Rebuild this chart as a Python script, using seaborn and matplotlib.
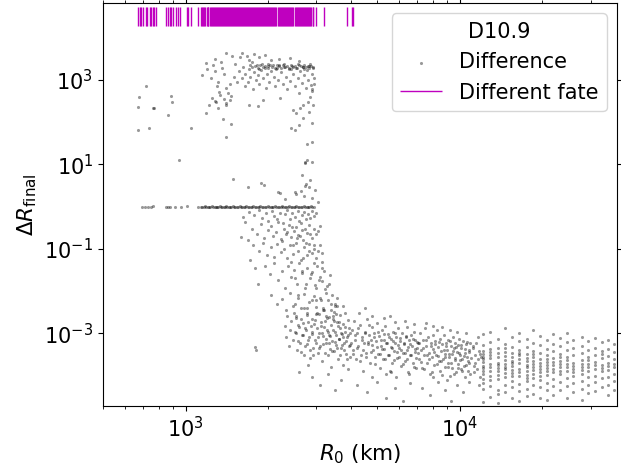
import matplotlib
matplotlib.use("Agg")
import matplotlib.pyplot as plt
from matplotlib.ticker import FixedLocator, NullLocator
import seaborn as sns
import pandas as pd

# ---------------- data ----------------
# isolated "different fate" points left of the main cluster
left_x = [676, 672, 715, 760, 770, 734, 672, 862, 887, 894, 1049, 945]
left_y = [389, 225, 721, 213, 221, 74, 65, 148, 418, 306, 72, 12.7]

# upper cluster (Delta R ~ 1e3)
upper_x = [1150, 1190, 1200, 1240, 1260, 1275, 1285, 1300, 1310, 1350, 1360, 1380, 1400, 1405, 1430,
           1450, 1470, 1250, 1290, 1220, 1330, 1380, 1320, 1400, 1450,
           1500, 1520, 1540, 1560, 1580, 1600, 1620, 1640, 1650, 1670, 1690, 1700, 1720, 1740, 1760,
           1780, 1800, 1820, 1840, 1860, 1880, 1900, 1920, 1940, 1960, 1980, 2000, 2020, 2050, 2080,
           2100, 2120, 2150, 2180, 2200, 2230, 2260, 2290, 2320, 2350, 2380, 2410, 2440, 2470, 2500,
           2530, 2560, 2590, 2620, 2650, 2680, 2710, 2740, 2770, 2800, 2830, 2860, 2880, 2900, 2920, 2940,
           1750, 1790, 1830, 1870, 1910, 1950, 1990, 2030, 2070, 2110, 2150, 2190, 2230, 2270, 2310,
           2350, 2390, 2430, 2470, 2510, 2550, 2590, 2630, 2670, 2710, 2750, 2790, 2830, 2870, 2910,
           1720, 1860, 2000, 2140, 2280, 2420, 2560, 2700, 2840,
           1700, 1850, 1780, 1950, 2050, 2200, 2400, 2600, 1600, 1480,
           2464, 2433, 2498, 2593, 2761, 2879, 2761, 2717, 2879, 2795, 2833, 2690, 2530, 2607, 2815,
           2676, 2900, 2950, 2920,
           1183, 1276, 1311, 1367, 1408, 1468, 1408, 1701, 1836, 1916, 2204]
upper_y = [1300, 2500, 1800, 1100, 2200, 3100, 1600, 700, 900, 2600, 1900, 1400, 4300, 650, 500,
           800, 420, 380, 300, 260, 440, 350, 520, 250, 330,
           1200, 2400, 900, 1600, 3400, 1100, 2000, 700, 1400, 3700, 900, 1800, 1200, 2600, 600,
           1500, 1000, 2200, 1300, 800, 1700, 2400, 1100, 1900, 650, 1400, 2100, 900, 1600, 2300,
           1200, 700, 1900, 1000, 2200, 1500, 800, 2000, 1200, 600, 1800, 950, 2100, 1400, 700,
           1900, 1100, 500, 1600, 850, 2000, 1300, 650, 1700, 1000, 2100, 750, 1400, 550, 1900, 1100,
           2050, 2150, 1950, 2250, 2000, 2150, 1900, 2200, 2050, 1950, 2250, 2100, 1950, 2200, 2050,
           2150, 1950, 2250, 2050, 2150, 1950, 2200, 2100, 2000, 2250, 2050, 2150, 1950, 2100, 2000,
           2300, 1850, 2350, 1800, 2350, 1850, 2350, 1800, 2350,
           3000, 3400, 4200, 3800, 2900, 3100, 3300, 2800, 4400, 3600,
           195, 72, 65, 86, 30, 33, 12.7, 11, 94, 306, 403, 256, 162, 213, 178,
           124, 600, 800, 250,
           168, 323, 213, 117, 44, 91, 280, 256, 242, 335, 368]

# horizontal row at Delta R ~ 1
line_x = [695, 709, 729, 750, 760, 851, 862, 880, 912, 960, 1011, 1109,
          1140, 1150, 1165, 1180, 1190, 1205, 1220, 1230, 1245, 1260, 1275, 1290, 1300, 1315, 1330,
          1345, 1360, 1375, 1390, 1405, 1420, 1440, 1455, 1470, 1490, 1505, 1520, 1540, 1555, 1575,
          1590, 1610, 1630, 1645, 1665, 1685, 1705, 1725, 1745, 1765, 1790, 1810, 1830, 1855, 1875,
          1900, 1920, 1945, 1970, 1990, 2015, 2040, 2065, 2090, 2115, 2140, 2165, 2195, 2220, 2245,
          2275, 2300, 2330, 2360, 2385, 2415, 2445, 2475, 2505, 2535, 2565, 2600, 2630, 2660, 2695,
          2725, 2760, 2795, 2830, 2865, 2900, 2930]
line_y = [1.0, 1.0, 0.99, 1.0, 1.01, 1.0, 1.0, 0.99, 1.0, 1.0, 1.01, 1.0,
          1.0, 0.99, 1.0, 1.01, 1.0, 1.0, 0.99, 1.0, 1.01, 1.0, 1.0, 0.99, 1.0, 1.0, 1.01,
          1.0, 0.99, 1.0, 1.0, 1.01, 1.0, 0.99, 1.0, 1.0, 1.01, 1.0, 0.99, 1.0, 1.0, 1.01,
          1.0, 0.99, 1.0, 1.0, 1.01, 1.0, 0.99, 1.0, 1.0, 1.01, 1.0, 0.99, 1.0, 1.0, 1.01,
          1.0, 0.99, 1.0, 1.0, 1.01, 1.0, 0.99, 1.0, 1.0, 1.01, 1.0, 0.99, 1.0, 1.0, 1.01,
          1.0, 0.99, 1.0, 1.0, 1.01, 1.0, 0.99, 1.0, 1.0, 1.01, 1.0, 0.99, 1.0, 1.0, 1.01,
          1.0, 0.99, 1.0, 1.0, 1.01, 1.0, 0.99]

# steep drop between ~1 and ~1e-3
drop_x = [1614, 1642, 1700, 1780, 1850, 1900, 1960, 2000, 2060, 2100, 2150, 2210, 2260, 2300, 2350,
          2400, 2450, 2500, 2560, 2600, 2650, 2700, 2750, 2800, 2850, 2900, 2950, 3000,
          1484, 1683, 1890, 1925, 2166, 2205, 2643, 2738, 2824, 2500, 2530, 2900, 2960, 2300, 2700,
          3050, 2718, 2897, 2666, 2833, 2718,
          1597, 1688, 1750, 1820, 1880, 1930, 1990, 2040, 2080, 2130, 2180, 2230, 2280, 2330, 2380,
          2430, 2480, 2530, 2580, 2630, 2680, 2730, 2780, 2830, 2880, 2930, 2980, 3030, 3080,
          1711, 1760, 1850, 1920, 1980, 2040, 2100, 2160, 2220, 2280, 2340, 2400, 2460, 2520, 2580,
          2640, 2700, 2760, 2820, 2880, 2940, 3000, 3080, 3150,
          1785, 1836, 1950, 2030, 2100, 2170, 2240, 2300, 2360, 2420, 2480, 2540, 2600, 2660, 2720,
          2780, 2840, 2900, 2960, 3020, 3080, 3140, 3200, 3280, 3350,
          2050, 2150, 2250, 2330, 2400, 2460, 2520, 2580, 2640, 2700, 2760, 2820, 2880, 2940, 3000,
          3060, 3120, 3180, 3250, 3320, 3400, 3480, 3560, 3650, 3750,
          1785, 1800,
          2420, 2470, 2510, 2560, 2610, 2650, 2690, 2740, 2780, 2820, 2860, 2900, 2940, 2980, 3020,
          3060, 3100, 3140, 3180, 3220, 3260, 3300, 3340, 3380, 3420, 3460, 3500, 3540, 3580, 3620,
          2250, 2350, 2450, 2550, 2650, 2750, 2850, 2950, 3050, 3150]
drop_y = [0.57, 0.43, 0.75, 0.62, 0.85, 0.55, 0.7, 0.45, 0.8, 0.6, 0.5, 0.72, 0.4, 0.65, 0.85,
          0.5, 0.7, 0.58, 0.8, 0.45, 0.62, 0.75, 0.5, 0.68, 0.55, 0.8, 0.6, 0.7,
          4.5, 2.9, 3.6, 3.2, 2.2, 2.1, 2.3, 3.4, 2.9, 2.2, 2.0, 1.6, 2.5, 1.5, 1.8,
          1.3, 11.5, 11.5, 5.6, 4.3, 3.0,
          0.19, 0.16, 0.3, 0.22, 0.38, 0.18, 0.28, 0.35, 0.2, 0.25, 0.42, 0.17, 0.3, 0.22, 0.36,
          0.19, 0.27, 0.33, 0.21, 0.4, 0.16, 0.29, 0.24, 0.37, 0.18, 0.3, 0.22, 0.26, 0.35,
          0.054, 0.12, 0.09, 0.14, 0.07, 0.11, 0.065, 0.13, 0.085, 0.1, 0.06, 0.12, 0.075, 0.14, 0.09,
          0.055, 0.11, 0.07, 0.13, 0.08, 0.1, 0.06, 0.12, 0.08,
          0.035, 0.015, 0.04, 0.025, 0.045, 0.018, 0.03, 0.012, 0.04, 0.022, 0.032, 0.015, 0.045, 0.027, 0.012,
          0.036, 0.02, 0.028, 0.014, 0.04, 0.022, 0.017, 0.03, 0.013, 0.024,
          0.008, 0.005, 0.0065, 0.0035, 0.009, 0.0045, 0.0025, 0.007, 0.004, 0.0085, 0.003, 0.0055, 0.0022, 0.0075, 0.0042,
          0.0028, 0.006, 0.0035, 0.009, 0.0024, 0.005, 0.0032, 0.007, 0.0027, 0.0045,
          4.8e-4, 4.0e-4,
          0.05, 0.12, 0.02, 0.008, 0.2, 0.03, 0.06, 0.015, 0.004, 0.09, 0.025, 0.006, 0.045, 0.012, 0.003,
          0.018, 0.007, 0.035, 0.004, 0.011, 0.0025, 0.006, 0.015, 0.0035, 0.008, 0.0022, 0.005, 0.0028, 0.0045, 0.0019,
          0.15, 0.25, 0.33, 0.18, 0.28, 0.14, 0.22, 0.12, 0.09, 0.05]

# lower band, x < 12000
low_x = [2300, 2320, 2350, 2380, 2400, 2430, 2460, 2490, 2520, 2550, 2580, 2610, 2640, 2670, 2700,
         2730, 2760, 2790, 2820, 2850, 2880, 2910, 2940, 2970, 3000, 3030, 3060, 3090, 3120, 3150,
         3180, 3210, 3240, 3270, 3300, 3330, 3360, 3390, 3420, 3450, 3480, 3510, 3540, 3570, 3600,
         3630, 3660, 3690, 3720, 3750, 3780, 3810, 3840, 3870, 3900, 3930, 3960, 3990,
         2600, 2900, 3100, 3300, 3500, 3700, 3900, 2800, 3400,
         2500, 2700, 3200, 3500, 3800, 3000,
         4030, 4070, 4110, 4150, 4190, 4230, 4270, 4310, 4350, 4390, 4430, 4470, 4510, 4550, 4590,
         4630, 4670, 4710, 4750, 4790, 4830, 4870, 4910, 4950, 4990, 5030, 5070, 5110, 5150, 5190,
         5230, 5270, 5310, 5350, 5390, 5430, 5470, 5510, 5550, 5590, 5630, 5670, 5710, 5750, 5790,
         5830, 5870, 5910, 5950, 5990, 6040, 6090, 6140, 6190, 6240, 6290, 6340, 6390, 6440, 6490,
         6540, 6590, 6640, 6690, 6740, 6790, 6840, 6890, 6940, 6990,
         4200, 4600, 5000, 5400, 5800, 6200, 6600, 4800, 5600,
         4300, 4800, 5300, 5800, 6300, 6800, 4500,
         7050, 7110, 7170, 7230, 7290, 7350, 7410, 7470, 7530, 7590, 7650, 7710, 7770, 7830, 7890,
         7950, 8010, 8070, 8130, 8190, 8250, 8310, 8370, 8430, 8490, 8550, 8610, 8670, 8730, 8790,
         8850, 8910, 8970, 9030, 9090, 9150, 9210, 9270, 9330, 9390, 9450, 9510, 9570, 9630, 9690,
         9750, 9810, 9870, 9930, 9990, 10060, 10130, 10200, 10270, 10340, 10410, 10480, 10550, 10620, 10690,
         10760, 10830, 10900,
         7300, 7800, 8300, 8800, 9300, 9800, 10300, 10800, 8000, 9000,
         7500, 8000, 8600, 9200, 9800, 10500,
         11200, 11400, 11600, 11800, 11300, 11700]
low_y = [1.5e-3, 8e-4, 2.5e-3, 5e-4, 1.2e-3, 2e-3, 7e-4, 3e-3, 1e-3, 4e-4, 1.6e-3, 6e-4, 2.2e-3, 9e-4, 3e-4,
         1.3e-3, 5.5e-4, 1.9e-3, 8e-4, 2.6e-4, 1.1e-3, 4.5e-4, 1.7e-3, 7e-4, 2.8e-3, 3.5e-4, 1e-3, 5e-4, 1.5e-3, 2.2e-4,
         8.5e-4, 2e-3, 6e-4, 1.2e-3, 3e-4, 9e-4, 4.2e-4, 1.6e-3, 6.5e-4, 2.5e-3, 3.8e-4, 1.1e-3, 5.2e-4, 1.9e-3, 2.5e-4,
         7.5e-4, 1.3e-3, 4.5e-4, 9.5e-4, 1.8e-4, 6e-4, 1.4e-3, 3.3e-4, 8e-4, 2.1e-3, 5e-4, 1e-3, 2.8e-4,
         1.2e-4, 9e-5, 6e-5, 1.1e-4, 4.5e-5, 8e-5, 1.4e-4, 1.8e-4, 1.6e-4,
         5e-3, 4e-3, 3.5e-3, 4.5e-3, 3e-3, 6e-3,
         1.2e-3, 4e-4, 2e-3, 7e-4, 2.5e-4, 1e-3, 5e-4, 1.6e-3, 3e-4, 8e-4, 1.3e-4, 6e-4, 1.1e-3, 3.5e-4, 2.2e-3,
         5.5e-4, 9e-4, 2e-4, 7e-4, 1.4e-3, 4e-4, 1e-3, 2.8e-4, 6.5e-4, 1.8e-3, 3.2e-4, 8.5e-4, 1.5e-4, 5e-4, 1.2e-3,
         2.4e-4, 7e-4, 4.2e-4, 1.5e-3, 1.1e-4, 6e-4, 9.5e-4, 3e-4, 2.5e-3, 4.8e-4, 7.5e-4, 2e-4, 1.1e-3, 3.8e-4, 6e-4,
         9e-5, 8e-4, 2.6e-4, 1.3e-3, 4.5e-4, 6.5e-4, 1.7e-4, 1e-3, 3.5e-4, 5.5e-4, 2.2e-4, 8e-4, 1.4e-3, 4e-4, 1.2e-4,
         6.8e-4, 3e-4, 9e-4, 5e-4, 2e-4, 1.1e-3, 3.6e-4, 7e-4, 1.5e-4, 4.5e-4,
         6e-5, 4e-5, 7e-5, 3e-5, 5e-5, 2.5e-5, 6.5e-5, 9e-5, 1.2e-4,
         3e-3, 2.6e-3, 2.3e-3, 1.9e-3, 2e-3, 1.7e-3, 4e-3,
         6e-4, 2.5e-4, 1e-3, 4e-4, 1.5e-4, 7e-4, 3e-4, 1.3e-3, 5e-4, 2e-4, 8e-4, 3.5e-4, 1.1e-4, 6e-4, 2.7e-4,
         9e-4, 4.2e-4, 1.8e-4, 6.5e-4, 3e-4, 1.2e-3, 4.8e-4, 2.2e-4, 7.5e-4, 1.3e-4, 3.8e-4, 5.5e-4, 2.5e-4, 9e-4, 3.2e-4,
         1.6e-4, 6e-4, 4e-4, 2e-4, 7e-4, 2.8e-4, 1e-4, 5e-4, 3.3e-4, 1.5e-4, 8e-4, 4.5e-4, 2.3e-4, 6e-4, 1.2e-4,
         3.6e-4, 5.2e-4, 1.9e-4, 7.5e-4, 3e-4, 1.4e-4, 4.6e-4, 2.4e-4, 6.5e-4, 1.7e-4, 3.5e-4, 9e-5, 5.5e-4, 2.7e-4, 1.3e-4,
         4e-4, 2e-4, 6e-4,
         5e-5, 3.5e-5, 7e-5, 4.5e-5, 2.5e-5, 6e-5, 4e-5, 7e-5, 9e-5, 8e-5,
         1.8e-3, 1.5e-3, 1.4e-3, 1.2e-3, 1.1e-3, 1e-3,
         5e-4, 2e-4, 8e-4, 3.2e-4, 1.2e-4, 6e-5]

# second pass over the densest part of the lower band
dense_x = [2510, 2535, 2565, 2590, 2625, 2655, 2685, 2715, 2745, 2775, 2805, 2835, 2865, 2895, 2925,
           2955, 2985, 3015, 3045, 3075, 3105, 3135, 3165, 3195, 3225, 3255, 3285, 3315, 3345, 3375,
           3405, 3435, 3465, 3495, 3525, 3555, 3585, 3615, 3645, 3675, 3705, 3735, 3765, 3795, 3825,
           3855, 3885, 3915, 3945, 3975,
           4020, 4080, 4140, 4200, 4260, 4320, 4380, 4440, 4500, 4560, 4620, 4680, 4740, 4800, 4860,
           4920, 4980, 5040, 5100, 5160, 5220, 5280, 5340, 5400, 5460, 5520, 5580, 5640, 5700, 5760,
           5820, 5880, 5940, 6000, 6060, 6120, 6180, 6240, 6300, 6360, 6420, 6480, 6540, 6600, 6660,
           6720, 6780, 6840, 6900, 6960,
           7020, 7120, 7220, 7320, 7420, 7520, 7620, 7720, 7820, 7920, 8020, 8120, 8220, 8320, 8420,
           8520, 8620, 8720, 8820, 8920, 9020, 9120, 9220, 9320, 9420, 9520, 9620, 9720, 9820, 9920,
           10020, 10120, 10220, 10320, 10420, 10520, 10620, 10720, 10820, 10920, 11020, 11120, 11220,
           11320, 11420, 11520, 11620, 11720, 11820, 11920]
dense_y = [1.1e-3, 2.3e-3, 6.5e-4, 1.4e-3, 3.6e-4, 9e-4, 1.8e-3, 5e-4, 1.2e-3, 2.7e-3, 7e-4, 4e-4, 1.5e-3, 9.5e-4, 3e-4,
           2.1e-3, 6e-4, 1.3e-3, 8e-4, 4.6e-4, 1.9e-3, 1e-3, 5.5e-4, 1.4e-3, 3.4e-4, 7.5e-4, 2.3e-3, 1.1e-3, 5.8e-4, 8.5e-4,
           3.8e-4, 1.2e-3, 2e-3, 6.2e-4, 9e-4, 4.4e-4, 1.5e-3, 7.2e-4, 3.1e-4, 1e-3, 5.4e-4, 1.7e-3, 8e-4, 4e-4, 1.1e-3,
           6.6e-4, 2.4e-4, 9.2e-4, 1.3e-3, 5.2e-4,
           6e-4, 3.2e-4, 9e-4, 4.6e-4, 1.3e-3, 2.2e-4, 7e-4, 4e-4, 1e-3, 2.8e-4, 6.2e-4, 1.6e-3, 3.6e-4, 5.4e-4, 8.2e-4,
           1.9e-4, 4.8e-4, 1.1e-3, 3.3e-4, 6.8e-4, 4.3e-4, 9.6e-4, 2.5e-4, 5.8e-4, 3.1e-4, 8e-4, 1.3e-4, 4.4e-4, 6.4e-4, 2.3e-4,
           1e-3, 3.7e-4, 5.2e-4, 2.7e-4, 7.6e-4, 4.1e-4, 1.9e-4, 6e-4, 3.4e-4, 8.8e-4, 2.4e-4, 4.7e-4, 1.1e-4, 5.6e-4, 3e-4,
           7.3e-4, 1.6e-4, 4.2e-4, 2.6e-4, 6.1e-4,
           3.4e-4, 5.8e-4, 2.1e-4, 4.4e-4, 1.4e-4, 6.8e-4, 3e-4, 2.4e-4, 4.9e-4, 1.2e-4, 3.7e-4, 5.6e-4, 1.9e-4, 2.9e-4, 6.1e-4,
           2.2e-4, 1.05e-4, 4.1e-4, 2.7e-4, 5e-4, 1.6e-4, 3.2e-4, 6.4e-4, 2e-4, 3.9e-4, 1.1e-4, 2.6e-4, 4.7e-4, 1.5e-4, 3.4e-4,
           2.3e-4, 5.2e-4, 1.3e-4, 2.9e-4, 4.2e-4, 1.8e-4, 6.2e-4, 2.2e-4, 3.6e-4, 1.1e-4, 2.6e-4, 4.4e-4, 1.7e-4,
           3.1e-4, 5.8e-4, 1.4e-4, 2.4e-4, 3.8e-4, 9e-5, 2.8e-4]

# striped region (x > 12000): column positions and the values in each column
stripe_x = [12170, 12870, 13800, 14600, 15440, 16460, 17510, 18510, 19590, 20720,
            21900, 23170, 24510, 25920, 27810, 29400, 31100, 32890, 34770, 36480]
stripe_y = [
    [9.5e-4, 5.2e-4, 3.9e-4, 2.4e-4, 2.1e-4, 1.3e-4, 1.1e-4, 6.5e-5, 4.8e-5, 2.4e-5, 3.2e-4, 1.7e-4, 2.8e-4, 1.5e-4, 8.5e-5],
    [1.1e-3, 6.3e-4, 3.1e-4, 2.6e-4, 1.6e-4, 1.25e-4, 7.8e-5, 5.6e-5, 3.1e-5, 4.3e-4, 9.5e-5, 1.9e-4, 3.6e-4],
    [7.3e-4, 4.4e-4, 3.4e-4, 2e-4, 1.48e-4, 1.02e-4, 8.2e-5, 4.6e-5, 3.7e-5, 2.2e-5, 2.7e-4, 1.75e-4, 1.25e-4],
    [1.3e-3, 5.7e-4, 3.6e-4, 2.9e-4, 1.85e-4, 1.4e-4, 9.1e-5, 6.1e-5, 4.1e-5, 2.3e-4, 1.15e-4, 4.5e-4, 1.6e-4],
    [8.3e-4, 4.8e-4, 3.5e-4, 2.2e-4, 1.7e-4, 1.12e-4, 7.6e-5, 5.3e-5, 2.9e-5, 2.7e-4, 1.35e-4, 1.95e-4, 9.5e-5],
    [1e-3, 6.4e-4, 4.1e-4, 3e-4, 1.95e-4, 1.45e-4, 9.8e-5, 6.2e-5, 4.4e-5, 2.5e-5, 2.45e-4, 1.2e-4, 3.5e-4],
    [7.4e-4, 4.7e-4, 3.2e-4, 2.15e-4, 1.55e-4, 1.05e-4, 7.3e-5, 4.7e-5, 3.3e-5, 1.25e-4, 2.6e-4, 1.8e-4, 8.6e-5],
    [1.2e-3, 5.9e-4, 3.8e-4, 2.75e-4, 1.88e-4, 1.32e-4, 8.7e-5, 5.9e-5, 3.6e-5, 2.2e-4, 1.1e-4, 1.55e-4, 3.2e-4],
    [8.6e-4, 5.3e-4, 3.45e-4, 2.45e-4, 1.68e-4, 1.18e-4, 7.9e-5, 5.4e-5, 3e-5, 2e-4, 9.5e-5, 1.4e-4],
    [6.9e-4, 4.3e-4, 3.05e-4, 2.05e-4, 1.47e-4, 1.01e-4, 6.8e-5, 4.5e-5, 2.6e-5, 1.25e-4, 1.75e-4, 2.5e-4],
    [9.6e-4, 5.5e-4, 3.75e-4, 2.55e-4, 1.77e-4, 1.22e-4, 8.3e-5, 5.6e-5, 3.4e-5, 2.1e-4, 1.45e-4],
    [7.6e-4, 4.9e-4, 3.25e-4, 2.25e-4, 1.57e-4, 1.07e-4, 7.1e-5, 4.6e-5, 2.7e-4, 1.3e-4, 1.9e-4],
    [1e-3, 6.1e-4, 4e-4, 2.7e-4, 1.86e-4, 1.27e-4, 8.6e-5, 5.7e-5, 3e-5, 2.3e-4, 1.55e-4],
    [7.1e-4, 4.6e-4, 3e-4, 2e-4, 1.42e-4, 9.6e-5, 6.6e-5, 4.1e-5, 1.7e-4, 1.2e-4],
    [8.2e-4, 5.1e-4, 3.4e-4, 2.3e-4, 1.6e-4, 1.1e-4, 7.6e-5, 4.9e-5, 2.7e-5, 1.35e-4, 1.9e-4],
    [6.6e-4, 4.1e-4, 2.8e-4, 1.9e-4, 1.3e-4, 9.1e-5, 6e-5, 3.8e-5, 2.3e-4, 1.55e-4],
    [7.9e-4, 4.6e-4, 3.1e-4, 2.1e-4, 1.46e-4, 1e-4, 6.9e-5, 4.2e-5, 1.75e-4],
    [6.1e-4, 3.8e-4, 2.6e-4, 1.8e-4, 1.26e-4, 8.6e-5, 5.5e-5, 3.3e-4, 1.5e-4],
    [7e-4, 4.2e-4, 2.9e-4, 2e-4, 1.36e-4, 9.1e-5, 6.1e-5, 3.5e-5, 1.65e-4],
    [5.6e-4, 3.6e-4, 2.4e-4, 1.6e-4, 1.1e-4, 7.6e-5, 4.5e-5, 1.9e-4],
]

# R0 of the runs whose fate differs (rug at the top)
fate_x = [670, 680, 689, 698, 715, 723, 739, 750, 760, 770, 782,
          851, 861, 875, 887, 899, 920, 937, 951, 1011, 1019, 1049, 1109,
          1141, 1150, 1160, 1172, 1180, 1195, 1205, 1212, 1225, 1238, 1245, 1260, 1268, 1280, 1292,
          1300, 1315, 1322, 1335, 1348, 1356, 1370, 1382, 1390, 1405, 1418, 1426, 1440, 1452, 1465,
          1476, 1490, 1502, 1515, 1528, 1540, 1552, 1566, 1580, 1592, 1605, 1620, 1633, 1647, 1660,
          1675, 1688, 1702, 1716, 1730, 1745, 1760, 1775, 1790, 1805, 1820, 1836, 1852, 1868, 1884,
          1900, 1916, 1932, 1949, 1966, 1983, 2000, 2018, 2035, 2053, 2071, 2090, 2108, 2126, 2145,
          2164, 2183, 2202, 2222, 2242, 2262, 2282, 2303, 2323, 2344, 2365, 2386, 2408, 2430, 2452,
          2474, 2496, 2519, 2541, 2564, 2587, 2610, 2634, 2657, 2681, 2705, 2729, 2754, 2778, 2803,
          2828, 2853, 2878, 2903, 2915,
          3000, 3189, 3883, 4045, 4080]

# y-axis labelled decades
y_ticks = [1e-3, 1e-1, 1e1, 1e3]

# ---------------- build table ----------------
xs = left_x + upper_x + line_x + drop_x + low_x + dense_x
ys = left_y + upper_y + line_y + drop_y + low_y + dense_y
for sx, col in zip(stripe_x, stripe_y):
    xs += [sx] * len(col)
    ys += list(col)
df = pd.DataFrame({"R0": xs, "dR": ys})

# ---------------- plot ----------------
fig = plt.figure(figsize=(6.21, 4.66), dpi=100)
ax = fig.add_axes([103 / 621, 60 / 466, 514 / 621, 403 / 466])

sns.scatterplot(data=df, x="R0", y="dR", ax=ax, s=5, color="k", alpha=0.4,
                linewidth=0, label="Difference")
ax.vlines(fate_x, 1.9e4, 5.3e4, colors="m", linewidth=1, label="Different fate")

ax.set_xscale("log")
ax.set_yscale("log")
ax.set_xlim(500, 37400)
ax.set_ylim(1.9e-5, 6.6e4)
ax.yaxis.set_major_locator(FixedLocator(y_ticks))
ax.yaxis.set_minor_locator(NullLocator())

ax.set_xlabel(r"$R_0$ (km)", fontsize=15.5, labelpad=1)
ax.set_ylabel(r"$\Delta R_{\rm final}$", fontsize=15.5)
ax.tick_params(axis="both", which="both", top=True, right=True, labelsize=15)

ax.legend(title="D10.9", fontsize=15, title_fontsize=15, loc="upper right")

fig.savefig("out.png", dpi=100)
